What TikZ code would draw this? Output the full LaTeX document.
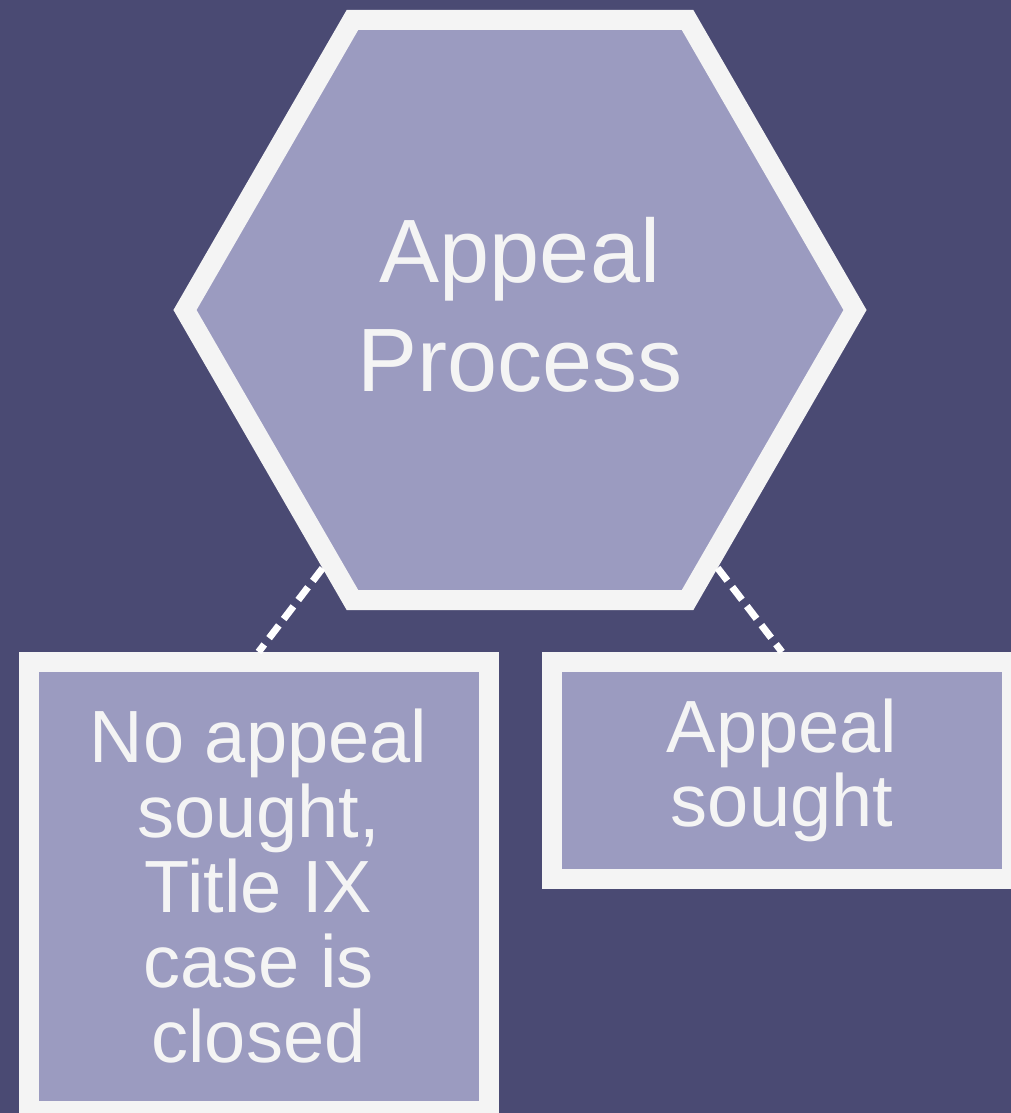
\documentclass[tikz,border=0pt]{standalone}
\usepackage{fontspec}
\setmainfont{Liberation Sans}
\usetikzlibrary{shapes.geometric}
\definecolor{bgpurple}{HTML}{4A4A73}
\definecolor{cellfill}{HTML}{9B9BC0}
\definecolor{rim}{HTML}{F4F4F4}
\tikzset{
  cell/.style={draw=rim, fill=cellfill, line width=20pt, text=rim, align=center, inner sep=0pt},
  link/.style={draw=white, line width=7pt, dash pattern=on 16pt off 8pt},
}
\begin{document}
\begin{tikzpicture}[x=1pt, y=-1pt]
    \clip (0,0) rectangle (1011,1113);
    \fill[bgpurple] (0,0) rectangle (1011,1113);
    % hexagon on top
    \node[cell, regular polygon, regular polygon sides=6, minimum size=670pt,
        text depth=11pt, font=\fontsize{90}{109}\selectfont] (hex) at (520,310) {Appeal\\Process};
    % the two outcomes
    \node[cell, minimum width=460pt, minimum height=449pt,
        font=\fontsize{74}{75}\selectfont] (nobox) at (258.5,886.5)
        {No appeal\\sought,\\Title IX\\case is\\closed};
    \node[cell, minimum width=460pt, minimum height=217pt,
        font=\fontsize{74}{74}\selectfont] (yesbox) at (782,770.5) {Appeal\\sought};
    % dashed links
    \draw[link] (hex) -- (nobox.north);
    \draw[link] (hex) -- (yesbox.north);
\end{tikzpicture}
\end{document}
